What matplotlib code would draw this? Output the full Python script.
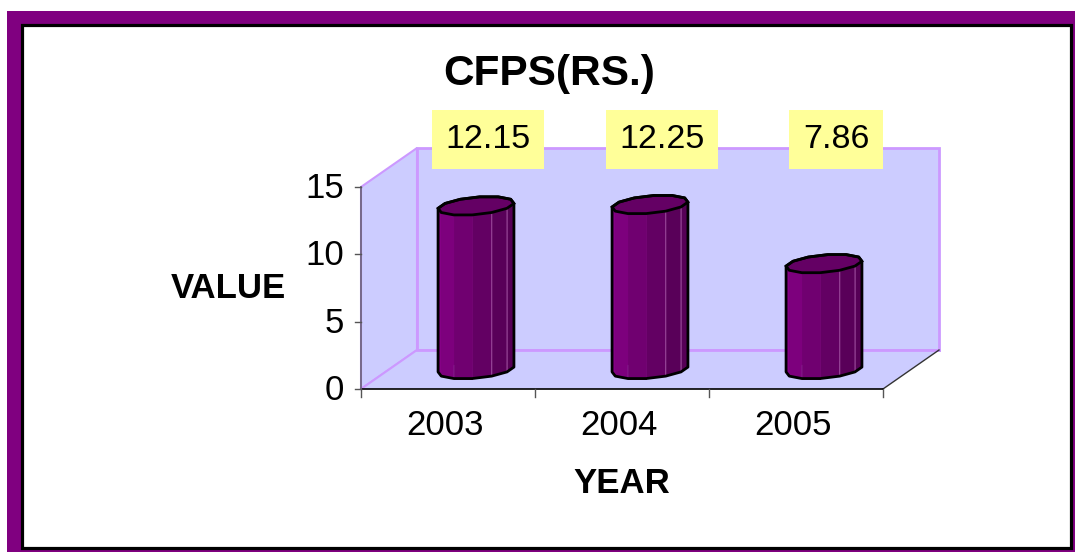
import numpy as np
import matplotlib
matplotlib.use("Agg")
import matplotlib.pyplot as plt
from matplotlib.patches import Polygon, Rectangle
from matplotlib.colors import to_rgb

# ---- data ----
years = ["2003", "2004", "2005"]
cfps = [12.15, 12.25, 7.86]
y_ticks = [0, 5, 10, 15]
title_text = "CFPS(RS.)"
x_title = "YEAR"
y_title = "VALUE"

plt.rcParams["font.family"] = ["Liberation Sans", "DejaVu Sans"]

W, H = 1075, 552
fig = plt.figure(figsize=(W / 100, H / 100), dpi=100)

# purple frame with a white panel on top
fig.add_artist(Rectangle((7 / W, 0), (W - 7) / W, (H - 11) / H,
                         transform=fig.transFigure, facecolor="#800080",
                         edgecolor="none", zorder=-3))
fig.add_artist(Rectangle((21.5 / W, 4.5 / H), (1070.5 - 21.5) / W, (547.5 - 24.5) / H,
                         transform=fig.transFigure, facecolor="white",
                         edgecolor="black", linewidth=2.3, zorder=-2))

# full-figure axes; one x unit = one category, y in value units
ax = fig.add_axes([0, 0, 1, 1])
ax.axis("off")
x_px = 174.0                 # pixels per category
y_px = (389 - 187) / 15.0    # pixels per value unit
x0_px, y0_px = 361, 389      # origin of the front plane
ax.set_xlim(-x0_px / x_px, (W - x0_px) / x_px)
ax.set_ylim(-(H - y0_px) / y_px, y0_px / y_px)

n_cat = len(years)
y_max = y_ticks[-1]
DX = 56 / x_px          # depth offset (x)
DY = 39 / y_px          # depth offset (y)

wall = "#CCCCFF"
wall_edge = "#CC99FF"

# back wall, side wall, floor
ax.add_patch(Polygon([(DX, DY), (n_cat + DX, DY), (n_cat + DX, y_max + DY), (DX, y_max + DY)],
                     closed=True, facecolor=wall, edgecolor=wall_edge, linewidth=2, zorder=1))
ax.add_patch(Polygon([(0, 0), (DX, DY), (DX, y_max + DY), (0, y_max)],
                     closed=True, facecolor=wall, edgecolor=wall_edge, linewidth=1.5, zorder=1))
ax.add_patch(Polygon([(0, 0), (n_cat, 0), (n_cat + DX, DY), (DX, DY)],
                     closed=True, facecolor=wall, edgecolor="none", zorder=1))
ax.plot([0, DX], [0, DY], color=wall_edge, lw=1.5, zorder=2)
ax.plot([DX, n_cat + DX], [DY, DY], color=wall_edge, lw=2, zorder=2)
ax.plot([n_cat, n_cat + DX], [0, DY], color="#333333", lw=1.0, zorder=2)
ax.plot([0, n_cat], [0, 0], color="black", lw=1.2, zorder=2)
ax.plot([0, 0], [0, y_max], color="#6f6680", lw=1.3, zorder=2)

# ticks and tick labels
for v in y_ticks:
    ax.plot([-6 / x_px, 0], [v, v], color="#555555", lw=1.0, zorder=2)
    ax.text(-17 / x_px, v - 11 / y_px, str(v), ha="right", va="baseline",
            fontsize=25, color="black")
for i in range(n_cat + 1):
    ax.plot([i, i], [0, -8 / y_px], color="#555555", lw=1.0, zorder=2)
for i, yr in enumerate(years):
    ax.text(i + 0.5 - 3 / x_px, -46 / y_px, yr, ha="center", va="baseline",
            fontsize=25, color="black")

# cylinders
light = np.array(to_rgb("#8a008a"))
dark = np.array(to_rgb("#560056"))
R, RZ, NSIDE = 0.205, 0.24, 12
theta = np.arange(NSIDE) * 2 * np.pi / NSIDE + np.pi / NSIDE


def ring(cx, cy):
    xs = cx + R * np.cos(theta) + RZ * np.sin(theta) * DX
    ys = cy + RZ * np.sin(theta) * DY
    return np.column_stack([xs, ys])


def hull(pts):
    pts = sorted(map(tuple, pts))
    def half(p):
        out = []
        for q in p:
            while len(out) >= 2 and ((out[-1][0] - out[-2][0]) * (q[1] - out[-2][1])
                                     - (out[-1][1] - out[-2][1]) * (q[0] - out[-2][0])) <= 0:
                out.pop()
            out.append(q)
        return out
    lo, up = half(pts), half(pts[::-1])
    return lo[:-1] + up[:-1]


for i, v in enumerate(cfps):
    cx = i + 0.5 + DX / 2
    base = DY / 2
    bot = ring(cx, base)
    top = ring(cx, base + v)
    faces = []
    for k in range(NSIDE):
        k2 = (k + 1) % NSIDE
        phi = theta[k] + np.pi / NSIDE
        depth = np.sin(phi)
        t = (np.cos(phi) + 1) / 2
        col = light * (1 - t) + dark * t
        edge = "#a050a0" if np.cos(phi) > 0.3 else col
        faces.append((depth, [bot[k], bot[k2], top[k2], top[k]], col, edge))
    for depth, pts, col, edge in sorted(faces, key=lambda f: -f[0]):
        ax.add_patch(Polygon(pts, closed=True, facecolor=col,
                             edgecolor=edge, linewidth=0.6, zorder=3))
    ax.add_patch(Polygon(top, closed=True, facecolor="#640064",
                         edgecolor="black", linewidth=2, zorder=4))
    ax.add_patch(Polygon(hull(np.vstack([bot, top])), closed=True, facecolor="none",
                         edgecolor="black", linewidth=2, joinstyle="round", zorder=5))

# value labels in yellow boxes
label_y = (389 - 148) / y_px
for i, v in enumerate(cfps):
    cx = i + 0.5 + DX / 2
    ax.text(cx + 12 / x_px, label_y, f"{v:.2f}", ha="center", va="baseline",
            fontsize=24.5, color="black", zorder=6,
            bbox=dict(boxstyle="square,pad=0.4", facecolor="#FFFF99", edgecolor="none"))

# titles
fig.text(549 / W, 1 - 85 / H, title_text, ha="center", va="baseline",
         fontsize=30.5, fontweight="bold")
fig.text(228 / W, 1 - 298 / H, y_title, ha="center", va="baseline",
         fontsize=25, fontweight="bold")
fig.text(621.5 / W, 1 - 493 / H, x_title, ha="center", va="baseline",
         fontsize=25, fontweight="bold")

fig.savefig("out.png", dpi=100)
